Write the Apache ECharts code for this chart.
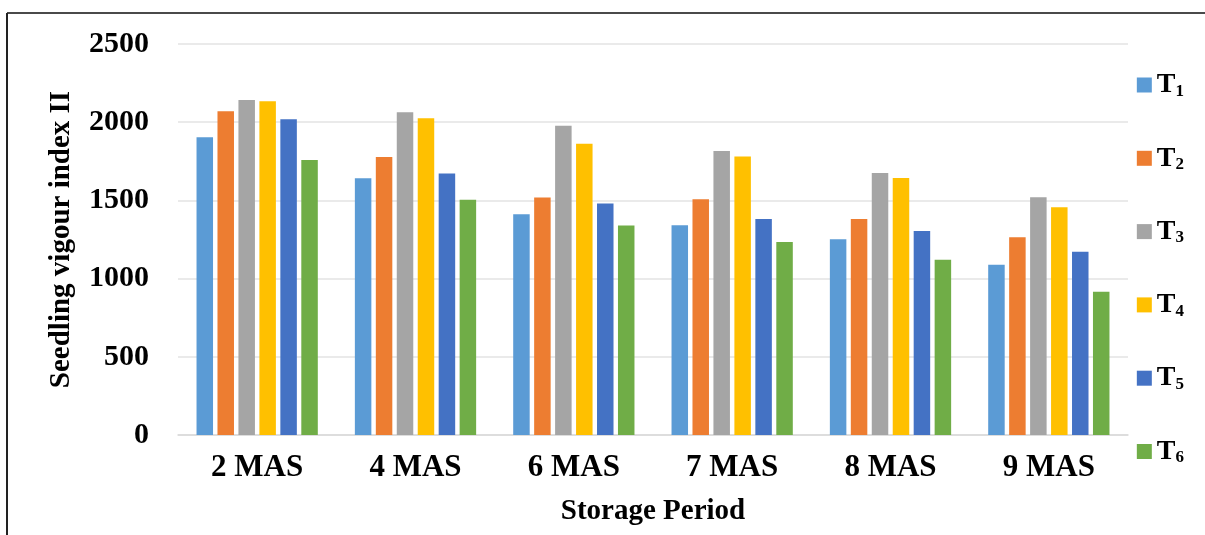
<!DOCTYPE html>
<html>
<head>
<meta charset="UTF-8">
<title>Seedling vigour index II</title>
<script src="https://cdn.jsdelivr.net/npm/echarts@6/dist/echarts.min.js"></script>
<style>
  html, body { margin: 0; padding: 0; background: #fff; }
  #container { width: 1205px; height: 535px; }
</style>
</head>
<body>
	<div id="container"></div>
	<script type="text/javascript">
	// storage periods (x axis)
	var periods = ['2 MAS', '4 MAS', '6 MAS', '7 MAS', '8 MAS', '9 MAS'];
	// treatments
	var treatments = ['1', '2', '3', '4', '5', '6'];
	var colors = ['#5B9BD5', '#ED7D31', '#A5A5A5', '#FFC000', '#4472C4', '#70AD47'];

	// values
	var t1 = [1903, 1641, 1411, 1341, 1251, 1089];
	var t2 = [2070, 1777, 1518, 1507, 1381, 1264];
	var t3 = [2142, 2063, 1978, 1816, 1675, 1520];
	var t4 = [2134, 2026, 1863, 1780, 1643, 1456];
	var t5 = [2019, 1672, 1480, 1381, 1304, 1172];
	var t6 = [1758, 1504, 1340, 1234, 1121, 916];
	var allSeries = [t1, t2, t3, t4, t5, t6];

	var yTicks = { min: 0, max: 2500, interval: 500 };

	var font = '"Liberation Serif", "Times New Roman", serif';

	var series = [];
	for (var i = 0; i < treatments.length; i++) {
		series.push({
			name: treatments[i],
			type: 'bar',
			data: allSeries[i],
			barWidth: 16.5,
			barGap: '27%',
			itemStyle: { color: colors[i] }
		});
	}

	var myChart = echarts.init(document.getElementById('container'));
	var option = {
		animation: false,
		backgroundColor: '#fff',
		textStyle: { fontFamily: font },
		grid: { left: 178, right: 77, top: 44, bottom: 100 },
		legend: {
			orient: 'vertical',
			right: 16,
			top: 66,
			itemWidth: 15,
			itemHeight: 15,
			itemGap: 44.3,
			icon: 'rect',
			data: treatments,
			formatter: function (name) { return '{t|T}{s|' + name + '}'; },
			textStyle: {
				fontFamily: font,
				rich: {
					t: { fontFamily: font, fontWeight: 'bold', fontSize: 28, color: '#000', lineHeight: 30 },
					s: { fontFamily: font, fontWeight: 'bold', fontSize: 17, color: '#000', lineHeight: 30, verticalAlign: 'bottom', padding: [6, 0, 0, 0] }
				}
			}
		},
		xAxis: {
			type: 'category',
			data: periods,
			name: 'Storage Period',
			nameLocation: 'middle',
			nameGap: 62,
			nameTextStyle: { fontFamily: font, fontWeight: 'bold', fontSize: 29, color: '#000' },
			axisLine: { lineStyle: { color: '#d9d9d9', width: 1.5 } },
			axisTick: { show: false },
			axisLabel: { fontFamily: font, fontWeight: 'bold', fontSize: 31, color: '#000', margin: 17 }
		},
		yAxis: {
			type: 'value',
			min: yTicks.min,
			max: yTicks.max,
			interval: yTicks.interval,
			name: 'Seedling vigour index II',
			nameLocation: 'middle',
			nameGap: 102,
			nameTextStyle: { fontFamily: font, fontWeight: 'bold', fontSize: 29, color: '#000' },
			axisLine: { show: false },
			axisTick: { show: false },
			splitLine: { lineStyle: { color: '#e3e3e3', width: 1.5 } },
			axisLabel: {
				fontFamily: font, fontWeight: 'bold', fontSize: 30, color: '#000', margin: 29,
				formatter: function (v) { return String(v); }
			}
		},
		graphic: [
			{ type: 'line', shape: { x1: 7, y1: 13, x2: 1205, y2: 13 }, style: { stroke: '#4a4a4a', lineWidth: 2 } },
			{ type: 'line', shape: { x1: 7, y1: 13, x2: 7, y2: 535 }, style: { stroke: '#222', lineWidth: 2 } }
		],
		series: series
	};
	myChart.setOption(option);
	</script>
</body>
</html>
